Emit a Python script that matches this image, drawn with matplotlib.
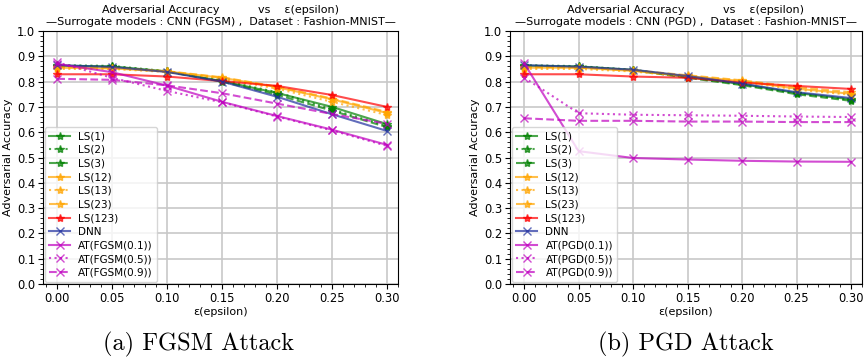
import numpy as np
import matplotlib
matplotlib.use("Agg")
import matplotlib.pyplot as plt
from matplotlib.ticker import AutoMinorLocator, MultipleLocator

eps = [0.0, 0.05, 0.10, 0.15, 0.20, 0.25, 0.30]

# FGSM (izquierda)
fgsm_ls1 = [0.863, 0.860, 0.840, 0.802, 0.755, 0.700, 0.632]
fgsm_ls2 = [0.865, 0.862, 0.841, 0.805, 0.758, 0.690, 0.625]
fgsm_ls3 = [0.860, 0.858, 0.840, 0.800, 0.748, 0.685, 0.620]
fgsm_ls12 = [0.855, 0.852, 0.840, 0.815, 0.778, 0.730, 0.676]
fgsm_ls13 = [0.850, 0.850, 0.838, 0.812, 0.772, 0.720, 0.668]
fgsm_ls23 = [0.858, 0.855, 0.841, 0.817, 0.780, 0.733, 0.680]
fgsm_ls123 = [0.829, 0.829, 0.820, 0.802, 0.783, 0.747, 0.700]
fgsm_dnn = [0.865, 0.858, 0.838, 0.800, 0.740, 0.671, 0.605]
fgsm_at1 = [0.870, 0.837, 0.784, 0.720, 0.664, 0.610, 0.550]
fgsm_at5 = [0.876, 0.815, 0.763, 0.718, 0.662, 0.607, 0.546]
fgsm_at9 = [0.811, 0.807, 0.785, 0.754, 0.713, 0.672, 0.633]

# PGD (derecha)
pgd_ls1 = [0.863, 0.860, 0.846, 0.818, 0.790, 0.755, 0.730]
pgd_ls2 = [0.865, 0.861, 0.847, 0.818, 0.789, 0.754, 0.728]
pgd_ls3 = [0.860, 0.857, 0.845, 0.815, 0.786, 0.750, 0.724]
pgd_ls12 = [0.855, 0.855, 0.842, 0.822, 0.802, 0.772, 0.752]
pgd_ls13 = [0.850, 0.850, 0.840, 0.820, 0.800, 0.768, 0.748]
pgd_ls23 = [0.858, 0.856, 0.845, 0.825, 0.805, 0.778, 0.758]
pgd_ls123 = [0.829, 0.829, 0.820, 0.815, 0.796, 0.783, 0.771]
pgd_dnn = [0.865, 0.859, 0.847, 0.822, 0.792, 0.758, 0.735]
pgd_at1 = [0.872, 0.525, 0.498, 0.492, 0.487, 0.484, 0.483]
pgd_at5 = [0.816, 0.675, 0.669, 0.667, 0.665, 0.662, 0.660]
pgd_at9 = [0.655, 0.645, 0.645, 0.642, 0.642, 0.640, 0.640]

fgsm = [fgsm_ls1, fgsm_ls2, fgsm_ls3, fgsm_ls12, fgsm_ls13, fgsm_ls23, fgsm_ls123,
        fgsm_dnn, fgsm_at1, fgsm_at5, fgsm_at9]
pgd = [pgd_ls1, pgd_ls2, pgd_ls3, pgd_ls12, pgd_ls13, pgd_ls23, pgd_ls123,
       pgd_dnn, pgd_at1, pgd_at5, pgd_at9]

etiquetas_fgsm = ["LS(1)", "LS(2)", "LS(3)", "LS(12)", "LS(13)", "LS(23)", "LS(123)",
                  "DNN", "AT(FGSM(0.1))", "AT(FGSM(0.5))", "AT(FGSM(0.9))"]
etiquetas_pgd = ["LS(1)", "LS(2)", "LS(3)", "LS(12)", "LS(13)", "LS(23)", "LS(123)",
                 "DNN", "AT(PGD(0.1))", "AT(PGD(0.5))", "AT(PGD(0.9))"]

colores = ["g", "g", "g", "orange", "orange", "orange", "r", "#1f2f9f", "m", "m", "m"]
estilos = ["-", ":", "--", "-", ":", "--", "-", "-", "-", ":", "--"]
marcas = ["*", "*", "*", "*", "*", "*", "*", "x", "x", "x", "x"]

fig = plt.figure(figsize=(8.68, 3.63), dpi=100)
ax1 = fig.add_axes([0.0495, 0.2176, 0.409, 0.697])
ax2 = fig.add_axes([0.5876, 0.2176, 0.4054, 0.697])

def dibujar(ax, datos, etiquetas, ataque):
    for k in range(len(datos)):
        ax.plot(eps, datos[k], color=colores[k], linestyle=estilos[k], marker=marcas[k],
                markersize=6, linewidth=1.5, alpha=0.7, label=etiquetas[k])
    ax.set_xlim(-0.013, 0.31)
    ax.set_ylim(0, 1.0)
    ax.yaxis.set_major_locator(MultipleLocator(0.1))
    ax.xaxis.set_major_locator(MultipleLocator(0.05))
    ax.yaxis.set_minor_locator(AutoMinorLocator(5))
    ax.xaxis.set_minor_locator(AutoMinorLocator(5))
    ax.grid(True, color="#c8c8c8", linewidth=1.2)
    ax.tick_params(labelsize=8.3, pad=2)
    ax.set_xticklabels(["%.2f" % v for v in ax.get_xticks()])
    ax.set_xlabel("ε(epsilon)", fontsize=8, labelpad=2)
    ax.set_ylabel("Adversarial Accuracy", fontsize=8, labelpad=3)
    ax.set_title("Adversarial Accuracy           vs    ε(epsilon)\n"
                 "—Surrogate models : CNN (" + ataque + ") ,  Dataset : Fashion-MNIST—",
                 fontsize=8, pad=4, linespacing=1.3)
    ax.legend(loc="lower left", fontsize=7.5, labelspacing=0.35, handlelength=2.0,
              borderaxespad=0.2)

dibujar(ax1, fgsm, etiquetas_fgsm, "FGSM")
dibujar(ax2, pgd, etiquetas_pgd, "PGD")

fig.text(0.2285, 0.05, "(a) FGSM Attack", ha="center", va="center", fontsize=17.5, family="cmr10")
fig.text(0.7903, 0.05, "(b) PGD Attack", ha="center", va="center", fontsize=17.5, family="cmr10")

plt.savefig("out.png", dpi=100)
